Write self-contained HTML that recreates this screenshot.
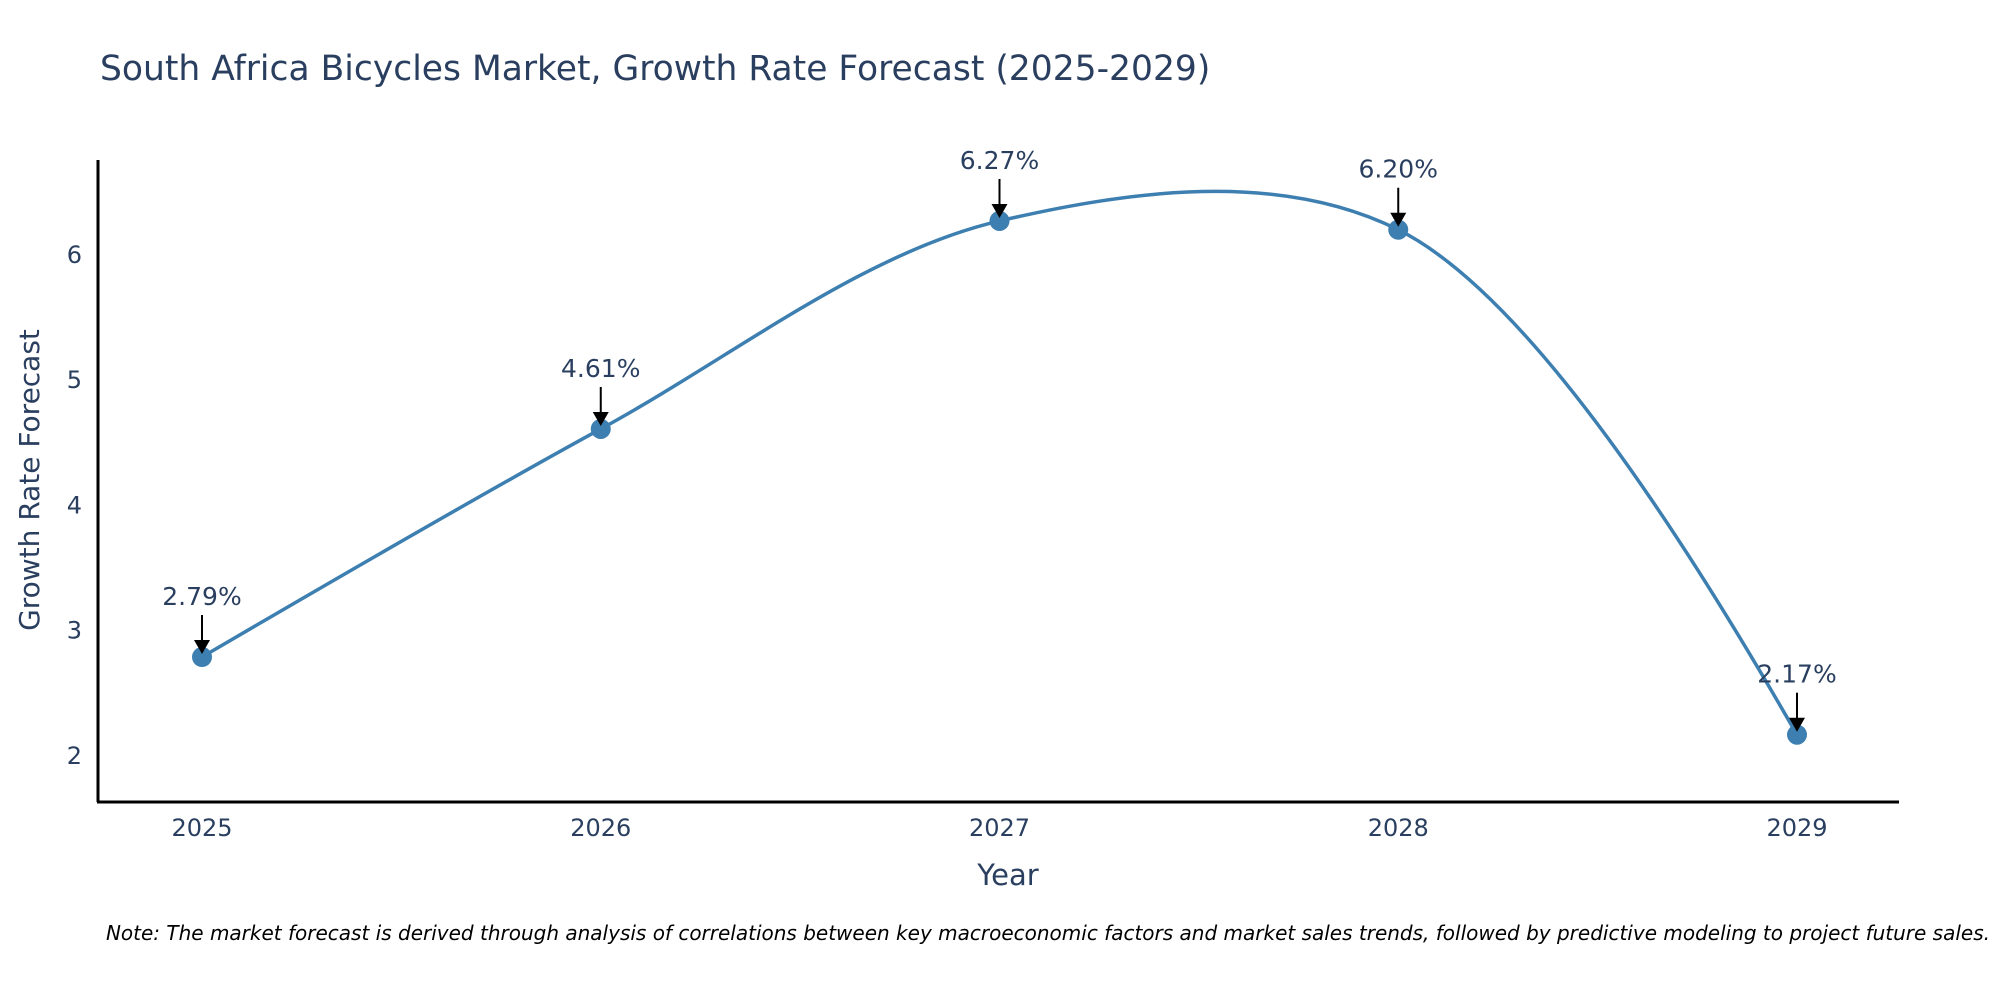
<!DOCTYPE html>
<html><head><meta charset="utf-8">
<style>
html,body{margin:0;padding:0;background:#fff;}
svg text{font-family:"DejaVu Sans","Liberation Sans",sans-serif;fill:#2a3f5f;}
</style></head>
<body>
<svg id="chart" width="2000" height="1000" viewBox="0 0 2000 1000" xmlns="http://www.w3.org/2000/svg">
<text x="100" y="80" font-size="34.5">South Africa Bicycles Market, Growth Rate Forecast (2025-2029)</text>
<g id="plot"></g>
<line x1="98" y1="160" x2="98" y2="802" stroke="#000" stroke-width="3"/>
<line x1="97" y1="802" x2="1899" y2="802" stroke="#000" stroke-width="3"/>
<text x="1008" y="885" font-size="29" text-anchor="middle">Year</text>
<text transform="translate(39,480) rotate(-90)" font-size="28" text-anchor="middle">Growth Rate Forecast</text>
<text x="1990" y="940" font-size="20" font-style="italic" text-anchor="end" style="fill:#000">Note: The market forecast is derived through analysis of correlations between key macroeconomic factors and market sales trends, followed by predictive modeling to project future sales.</text>
</svg>
<script>
const years = [2025, 2026, 2027, 2028, 2029];
const growth = [2.79, 4.61, 6.27, 6.20, 2.17];
const labels = ["2.79%", "4.61%", "6.27%", "6.20%", "2.17%"];
const yTicks = [2, 3, 4, 5, 6];

const NS = "http://www.w3.org/2000/svg";
const g = document.getElementById('plot');
const xScale = v => 202 + (v - 2025) * (1797 - 202) / 4;
const yScale = v => 756 - (v - 2) * 125.3;
function mk(tag, attrs){const e=document.createElementNS(NS,tag);for(const k in attrs)e.setAttribute(k,attrs[k]);g.appendChild(e);return e;}

yTicks.forEach(t=>{
  const e = mk('text',{x:82,y:yScale(t)+8,'font-size':24,'text-anchor':'end'});
  
  
  e.textContent = t;
});
years.forEach(y=>{
  const e = mk('text',{x:xScale(y),y:836,'font-size':24,'text-anchor':'middle'});
  
  
  e.textContent = y;
});

const pts = years.map((y,i)=>[xScale(y), yScale(growth[i])]);
function tangent(p0,p1,p2,s){
  const dxa=p0[0]-p1[0], dya=p0[1]-p1[1], dxb=p2[0]-p1[0], dyb=p2[1]-p1[1];
  const d1=Math.pow(dxa*dxa+dya*dya,0.25), d2=Math.pow(dxb*dxb+dyb*dyb,0.25);
  const nx=(d2*d2*dxa-d1*d1*dxb)*s, ny=(d2*d2*dya-d1*d1*dyb)*s;
  const den1=3*d2*(d1+d2), den2=3*d1*(d1+d2);
  return [[p1[0]+nx/den1,p1[1]+ny/den1],[p1[0]-nx/den2,p1[1]-ny/den2]];
}
const tg=[];
for(let i=1;i<pts.length-1;i++) tg.push(tangent(pts[i-1],pts[i],pts[i+1],1));
let d = `M${pts[0]} Q${tg[0][0]} ${pts[1]}`;
for(let i=2;i<pts.length-1;i++) d += ` C${tg[i-2][1]} ${tg[i-1][0]} ${pts[i]}`;
d += ` Q${tg[pts.length-3][1]} ${pts[pts.length-1]}`;
const line = mk('path',{d:d,fill:'none',stroke:'#3d7fb0','stroke-width':3.5});



pts.forEach((p,i)=>{
  const c = mk('circle',{cx:p[0],cy:p[1],r:10,fill:'#3d7fb0'});
  
  
  const a = mk('line',{x1:p[0],y1:p[1]-42,x2:p[0],y2:p[1]-14,stroke:'#000','stroke-width':2});
  
  
  const h = mk('polygon',{points:`${p[0]-8},${p[1]-17} ${p[0]+8},${p[1]-17} ${p[0]},${p[1]-3}`,fill:'#000'});
  
  
  const t = mk('text',{x:p[0],y:p[1]-52,'font-size':25,'text-anchor':'middle'});
  
  
  t.textContent = labels[i];
});
</script>
</body></html>
